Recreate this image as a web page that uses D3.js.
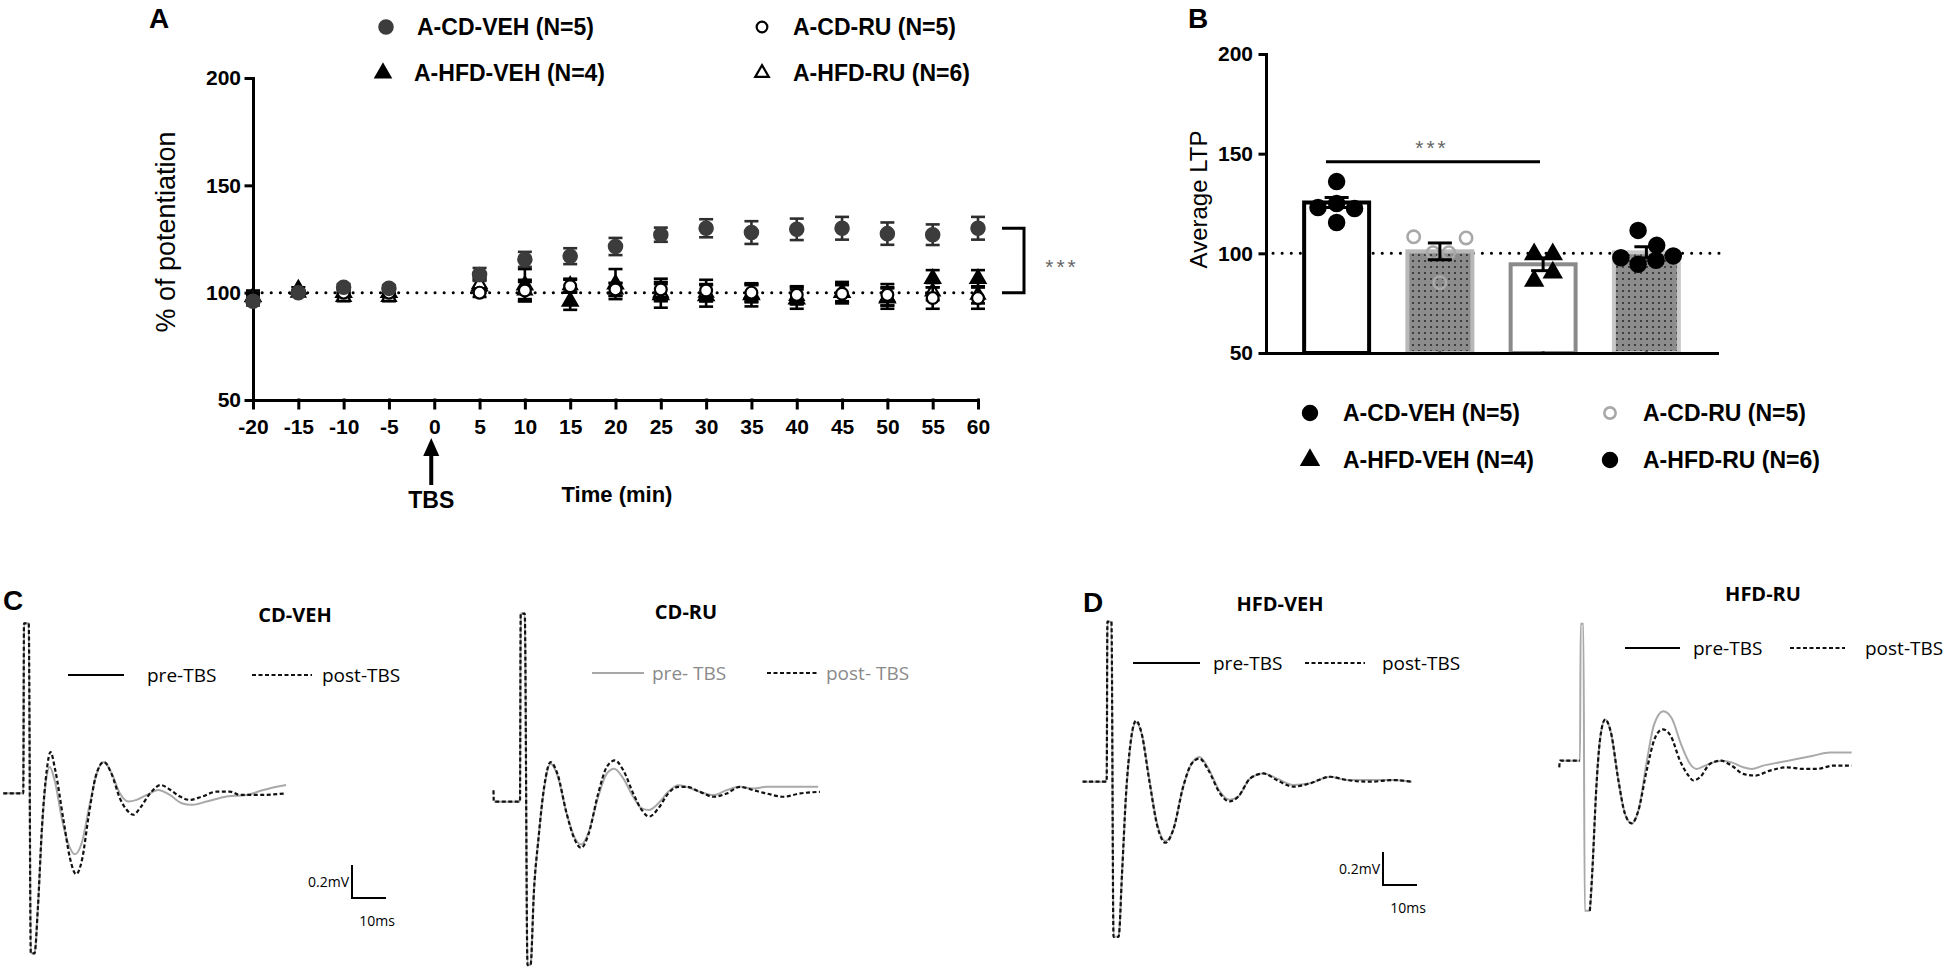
<!DOCTYPE html>
<html>
<head>
<meta charset="utf-8">
<script src="https://cdn.jsdelivr.net/npm/d3@7"></script>
<style>
  body { margin: 0; background: #fff; }
  svg { display: block; }
  .ax path, .ax line { stroke: #000; stroke-width: 3; stroke-linecap: square; }
  .ax text { font: bold 21px "Liberation Sans", Arial, sans-serif; fill: #000; }
  .sans { font-family: "Liberation Sans", Arial, sans-serif; }
  .cal { font-family: "Open Sans", "Noto Sans", sans-serif; }
</style>
</head>
<body>
<script>
// ---------- data: panel A (time course, % of potentiation) ----------
const timeMin = [-20, -15, -10, -5, 5, 10, 15, 20, 25, 30, 35, 40, 45, 50, 55, 60];
const timeTicks = [-20, -15, -10, -5, 0, 5, 10, 15, 20, 25, 30, 35, 40, 45, 50, 55, 60];
const potTicks = [50, 100, 150, 200];

const cdVeh = [96, 100, 102.5, 102, 108.5, 115.5, 117, 121.5, 127, 130, 128, 129.5, 130, 127.5, 127, 130];
const cdVehErr = [2, 1, 1.5, 1.5, 3, 3.5, 3.7, 4, 3.3, 4.2, 5.3, 5, 5.3, 5.2, 4.8, 5.3];
const cdRu = [97, 100, 100, 100, 100, 101, 103, 101.5, 101.5, 101, 100, 99, 99.5, 99, 97.5, 97.5];
const cdRuErr = [2, 1, 1.5, 1.5, 2, 4, 3, 3, 5, 5, 4, 4, 4, 5, 5, 5];
const hfdVeh = [98, 101.5, 100, 100, 103, 103.5, 96, 104, 99, 98.5, 99, 97, 100, 97.5, 106.5, 106.5];
const hfdVehErr = [3, 1, 2, 2, 3, 7.5, 4, 7, 6, 5, 5.4, 4.5, 5, 5, 4, 4];
const hfdRu = [98, 100, 98, 98, 104, 101, 103.5, 101.5, 100, 100, 99.5, 98.5, 100, 98, 100.5, 99];
const hfdRuErr = [2, 1, 2, 2, 3, 5, 3, 3, 4, 4, 4, 4, 4, 4, 4, 4];

const groupNames = ['A-CD-VEH (N=5)', 'A-CD-RU (N=5)', 'A-HFD-VEH (N=4)', 'A-HFD-RU (N=6)'];

// ---------- data: panel B (average LTP) ----------
const ltpMean = [125.5, 101, 94.5, 100.5];
const ltpSem = [2.5, 4.2, 3.2, 2.8];
const cdVehLtp = [136, 123, 125, 122.5, 115.5];
const cdRuLtp = [108.3, 107.7, 100.3, 100.3, 85.3];
const hfdVehLtp = [99.5, 99.5, 90.3, 86.2];
const hfdRuLtp = [111.5, 104, 97.8, 94.5, 96.5, 98.7];
const ltpSig = 146;

// ---------- data: panels C, D (fEPSP traces, [ms, mV]) ----------
const cdVehPre = [[-5.9,0],[0,0],[0.2,1.03],[1.6,1.03],[2.2,-0.97],[3.3,-0.97],[4.3,-0.69],[5.5,-0.22],[6.7,0.08],[7.8,0.16],[9.2,0.08],[11.6,-0.18],[13.5,-0.32],[15.2,-0.37],[17.2,-0.30],[19.4,-0.08],[21.6,0.12],[23.7,0.19],[26.0,0.12],[28.4,0],[30.9,-0.05],[33.3,-0.04],[36.3,-0.01],[39.7,0.02],[43.1,-0.01],[46.6,-0.06],[49.5,-0.07],[53.9,-0.05],[59.8,-0.02],[65.7,-0.01],[70.6,0.02],[74.5,0.04],[77.3,0.05]];
const cdVehPost = [[-5.9,0],[0,0],[0.2,1.03],[1.6,1.03],[2.2,-0.97],[3.3,-0.97],[4.3,-0.69],[5.5,-0.20],[6.9,0.14],[8.0,0.25],[9.4,0.14],[11.8,-0.16],[13.7,-0.39],[15.5,-0.49],[17.3,-0.40],[19.2,-0.14],[21.4,0.11],[23.7,0.19],[26.1,0.11],[28.4,-0.03],[30.4,-0.10],[32.4,-0.13],[34.3,-0.09],[37.3,0],[40.4,0.05],[43.3,0.02],[46.1,-0.02],[49.0,-0.04],[52.5,-0.02],[56.9,0.01],[60.8,0.01],[63.7,-0.01],[69.6,-0.01],[77.3,0]];
const cdRuPre = [[-7.6,0],[0,0],[0.2,1.14],[1.4,1.14],[2.2,-0.99],[3.1,-0.99],[4.1,-0.54],[5.4,-0.23],[7.1,0.08],[9.0,0.23],[11.0,0.16],[13.7,-0.07],[15.9,-0.21],[18.0,-0.26],[20.1,-0.19],[23.0,0.03],[25.5,0.17],[27.7,0.20],[30.4,0.14],[33.3,0.03],[35.8,-0.04],[38.0,-0.05],[40.7,-0.01],[43.6,0.06],[46.6,0.10],[49.0,0.09],[52.9,0.06],[56.9,0.04],[60.8,0.07],[64.7,0.09],[68.6,0.08],[72.5,0.09],[78.4,0.09],[84.3,0.09],[87.7,0.09]];
const cdRuPost = [[-7.8,0.07],[-7.7,0],[0,0],[0.2,1.14],[1.4,1.14],[2.2,-0.99],[3.1,-0.99],[4.1,-0.54],[5.4,-0.23],[7.1,0.09],[9.0,0.24],[11.0,0.17],[13.7,-0.07],[15.9,-0.22],[18.0,-0.28],[20.1,-0.20],[23.0,0.05],[25.5,0.21],[27.9,0.25],[30.4,0.19],[33.3,0.05],[35.8,-0.05],[38.0,-0.09],[40.7,-0.04],[43.6,0.05],[46.6,0.09],[49.0,0.09],[52.9,0.06],[56.9,0.03],[60.8,0.05],[64.7,0.09],[68.6,0.07],[72.5,0.05],[77.5,0.03],[82.4,0.05],[88.2,0.06]];
const hfdVehPre = [[-7.1,0],[0,0],[0.2,0.97],[1.4,0.97],[2.0,-0.94],[3.5,-0.94],[4.5,-0.56],[5.7,-0.08],[7.1,0.24],[8.6,0.36],[10.3,0.29],[12.5,0.02],[14.9,-0.26],[17.3,-0.36],[19.6,-0.29],[22.5,-0.03],[25.0,0.11],[27.3,0.15],[29.9,0.08],[33.3,-0.06],[36.1,-0.11],[38.7,-0.09],[42.2,0.02],[46.1,0.05],[50.0,0.02],[54.9,-0.02],[59.8,-0.01],[65.7,0.03],[70.6,0.01],[77.5,0.01],[84.3,0.01],[89.7,0]];
const hfdVehPost = [[-7.1,0],[0,0],[0.2,0.97],[1.4,0.97],[2.0,-0.94],[3.5,-0.94],[4.5,-0.56],[5.7,-0.07],[7.1,0.25],[8.6,0.37],[10.3,0.29],[12.5,0.01],[14.9,-0.27],[17.3,-0.37],[19.6,-0.29],[22.5,-0.03],[25.0,0.11],[27.3,0.14],[29.9,0.07],[33.3,-0.07],[36.1,-0.12],[38.7,-0.09],[42.2,0.02],[46.1,0.05],[50.0,0.01],[54.9,-0.03],[59.8,-0.01],[65.7,0.03],[70.6,0.01],[77.5,0],[84.3,0.01],[89.7,0]];
const hfdRuPre = [[-5.9,0],[0,0],[0.2,0.83],[1.0,0.83],[1.4,-0.91],[2.9,-0.91],[3.7,-0.64],[4.7,-0.20],[5.9,0.13],[7.4,0.25],[9.1,0.17],[11.3,-0.12],[13.2,-0.32],[15.2,-0.38],[17.2,-0.30],[19.6,-0.01],[21.8,0.22],[24.5,0.30],[26.9,0.26],[29.9,0.09],[32.4,-0.02],[34.3,-0.05],[36.8,-0.03],[39.2,-0.01],[41.7,0],[44.6,-0.01],[48.0,-0.04],[50.5,-0.05],[53.9,-0.03],[58.8,-0.01],[63.7,0.01],[68.6,0.03],[73.5,0.05],[79.9,0.05]];
const hfdRuPost = [[-6.1,-0.04],[-5.9,0],[0,0],[1.5,null],[2.9,-0.91],[3.7,-0.64],[4.7,-0.20],[5.9,0.13],[7.4,0.25],[9.1,0.17],[11.3,-0.12],[13.2,-0.32],[15.2,-0.38],[17.2,-0.30],[19.6,-0.06],[22.1,0.14],[24.3,0.19],[26.7,0.15],[29.4,0],[31.9,-0.09],[33.3,-0.12],[35.3,-0.10],[38.2,-0.02],[41.4,0],[44.6,-0.03],[48.0,-0.08],[51.5,-0.09],[55.9,-0.06],[60.8,-0.04],[65.7,-0.05],[69.6,-0.05],[74.5,-0.03],[79.9,-0.03]];

// ---------- setup ----------
const WIDTH = 1950;
const HEIGHT = 977;

const svg = d3.select('body')
  .append('svg')
    .attr('width', WIDTH)
    .attr('height', HEIGHT);

const defs = svg.append('defs');
const pat = defs.append('pattern')
  .attr('id', 'dots')
  .attr('width', 6).attr('height', 6)
  .attr('patternUnits', 'userSpaceOnUse');
pat.append('rect').attr('width', 6).attr('height', 6).attr('fill', '#8c8c8c');
pat.append('circle').attr('cx', 3).attr('cy', 3).attr('r', 1.1).attr('fill', '#2b2b2b');

function letter(txt, x, y) {
  svg.append('text').attr('class', 'sans')
    .attr('x', x).attr('y', y)
    .attr('font-size', 28).attr('font-weight', 'bold')
    .text(txt);
}

const sym = (type, size) => d3.symbol().type(type).size(size)();

// ---------- panel A ----------
const xA = d3.scaleLinear().domain([-20, 60]).range([253, 978]);
const yA = d3.scaleLinear().domain([50, 200]).range([400, 78]);

letter('A', 149, 28);

svg.append('g').attr('class', 'ax')
  .attr('transform', 'translate(0,400)')
  .call(d3.axisBottom(xA).tickValues(timeTicks).tickFormat(d => String(d))
    .tickSize(8).tickSizeOuter(0).tickPadding(11));
svg.append('g').attr('class', 'ax')
  .attr('transform', 'translate(253,0)')
  .call(d3.axisLeft(yA).tickValues(potTicks).tickSize(7).tickSizeOuter(0).tickPadding(5));

svg.append('text').attr('class', 'sans')
  .attr('transform', `translate(166,${yA(125) - 7}) rotate(-90)`)
  .attr('text-anchor', 'middle').attr('dominant-baseline', 'central')
  .attr('font-size', 27)
  .text('% of potentiation');

// baseline at 100 %
svg.append('line')
  .attr('x1', xA(-20)).attr('x2', xA(60) - 4)
  .attr('y1', yA(100)).attr('y2', yA(100))
  .attr('stroke', '#000').attr('stroke-width', 3)
  .attr('stroke-linecap', 'round').attr('stroke-dasharray', '0.1,9');

const seriesA = [
  { vals: hfdVeh, err: hfdVehErr, type: d3.symbolTriangle, size: 95, fill: '#000', stroke: '#000' },
  { vals: hfdRu, err: hfdRuErr, type: d3.symbolTriangle, size: 80, fill: '#fff', stroke: '#000' },
  { vals: cdRu, err: cdRuErr, type: d3.symbolCircle, size: 110, fill: '#fff', stroke: '#000' },
  { vals: cdVeh, err: cdVehErr, type: d3.symbolCircle, size: 140, fill: '#3c3c3c', stroke: '#3c3c3c' }
];

seriesA.forEach(s => {
  const g = svg.append('g');
  const pts = timeMin.map((t, i) => ({ t, v: s.vals[i], e: s.err[i] }));
  const eb = g.selectAll('g.eb').data(pts).enter().append('g')
    .attr('stroke', s.fill === '#3c3c3c' ? '#2e2e2e' : '#000').attr('stroke-width', 2.6);
  eb.append('line')
    .attr('x1', d => xA(d.t)).attr('x2', d => xA(d.t))
    .attr('y1', d => yA(d.v - d.e)).attr('y2', d => yA(d.v + d.e));
  eb.append('line')
    .attr('x1', d => xA(d.t) - 7).attr('x2', d => xA(d.t) + 7)
    .attr('y1', d => yA(d.v + d.e)).attr('y2', d => yA(d.v + d.e));
  eb.append('line')
    .attr('x1', d => xA(d.t) - 7).attr('x2', d => xA(d.t) + 7)
    .attr('y1', d => yA(d.v - d.e)).attr('y2', d => yA(d.v - d.e));
  g.selectAll('path.m').data(pts).enter().append('path')
    .attr('d', sym(s.type, s.size))
    .attr('transform', d => `translate(${xA(d.t)},${yA(d.v)})`)
    .attr('fill', s.fill).attr('stroke', s.stroke).attr('stroke-width', 2.2);
});

// legend A
const legA = [
  { x: 386, y: 27, type: d3.symbolCircle, size: 140, fill: '#3c3c3c', stroke: '#3c3c3c' },
  { x: 762, y: 27, type: d3.symbolCircle, size: 90, fill: '#fff', stroke: '#000' },
  { x: 383, y: 73, type: d3.symbolTriangle, size: 95, fill: '#000', stroke: '#000' },
  { x: 762, y: 73, type: d3.symbolTriangle, size: 80, fill: '#fff', stroke: '#000' }
];
legA.forEach((l, i) => {
  svg.append('path').attr('d', sym(l.type, l.size))
    .attr('transform', `translate(${l.x},${l.y})`)
    .attr('fill', l.fill).attr('stroke', l.stroke).attr('stroke-width', 2.2);
  svg.append('text').attr('class', 'sans')
    .attr('x', l.x + 31).attr('y', l.y)
    .attr('dominant-baseline', 'central')
    .attr('font-size', 23).attr('font-weight', 'bold')
    .text(groupNames[i]);
});

// TBS arrow
const xT = xA(0) - 3;
svg.append('line').attr('x1', xT).attr('x2', xT).attr('y1', 452).attr('y2', 485)
  .attr('stroke', '#000').attr('stroke-width', 4);
svg.append('path').attr('d', `M${xT},438 L${xT - 8},456 L${xT + 8},456 Z`).attr('fill', '#000');
svg.append('text').attr('class', 'sans')
  .attr('x', xT).attr('y', 500).attr('text-anchor', 'middle').attr('dominant-baseline', 'central')
  .attr('font-size', 23).attr('font-weight', 'bold').text('TBS');
svg.append('text').attr('class', 'sans')
  .attr('x', 617).attr('y', 494).attr('text-anchor', 'middle').attr('dominant-baseline', 'central')
  .attr('font-size', 22).attr('font-weight', 'bold').text('Time (min)');

// significance bracket
svg.append('path')
  .attr('d', `M1002,${yA(130)} H1024 V${yA(100)} H1002`)
  .attr('fill', 'none').attr('stroke', '#000').attr('stroke-width', 3);
svg.append('text').attr('class', 'sans')
  .attr('x', 1062).attr('y', yA(115) + 6).attr('text-anchor', 'middle')
  .attr('dominant-baseline', 'central').attr('font-size', 21).attr('fill', '#666')
  .attr('letter-spacing', 3).text('***');

// ---------- panel B ----------
const xB = d3.scaleBand().domain(groupNames).range([1266, 1717]).paddingInner(0.332).paddingOuter(0.35);
const yB = d3.scaleLinear().domain([50, 200]).range([353, 54]);

letter('B', 1188, 28);

svg.append('line')
  .attr('x1', 1273).attr('x2', 1724)
  .attr('y1', yB(100)).attr('y2', yB(100))
  .attr('stroke', '#000').attr('stroke-width', 3)
  .attr('stroke-linecap', 'round').attr('stroke-dasharray', '0.1,9');

const barFill = ['#fff', 'url(#dots)', '#fff', 'url(#dots)'];
const barStroke = ['#000', '#b8b8b8', '#8a8a8a', '#c8c8c8'];

svg.append('g').selectAll('rect')
  .data(groupNames)
  .enter().append('rect')
    .attr('x', d => xB(d) + 2)
    .attr('width', xB.bandwidth() - 4)
    .attr('y', (d, i) => yB(ltpMean[i]))
    .attr('height', (d, i) => yB(50) - yB(ltpMean[i]))
    .attr('fill', (d, i) => barFill[i])
    .attr('stroke', (d, i) => barStroke[i])
    .attr('stroke-width', 4);

svg.append('g').attr('class', 'ax')
  .attr('transform', 'translate(0,353)')
  .call(d3.axisBottom(xB).tickSize(0).tickSizeOuter(0).tickFormat(''));
svg.append('g').attr('class', 'ax')
  .attr('transform', 'translate(1266,0)')
  .call(d3.axisLeft(yB).tickValues(potTicks).tickSize(6).tickSizeOuter(0).tickPadding(7));

svg.append('text').attr('class', 'sans')
  .attr('transform', `translate(1198,${yB(127)}) rotate(-90)`)
  .attr('text-anchor', 'middle').attr('dominant-baseline', 'central')
  .attr('font-size', 24)
  .text('Average LTP');

// individual animals (horizontal spread as fraction of bar width)
const ltpPts = [cdVehLtp, cdRuLtp, hfdVehLtp, hfdRuLtp];
const spread = [[0, -0.27, 0, 0.26, 0], [-0.38, 0.38, -0.1, 0.13, 0], [-0.13, 0.14, 0.14, -0.13], [-0.12, 0.15, -0.37, -0.12, 0.14, 0.39]];
const ptStyle = [
  { type: d3.symbolCircle, size: 175, fill: '#000', stroke: '#000' },
  { type: d3.symbolCircle, size: 120, fill: 'none', stroke: '#a8a8a8' },
  { type: d3.symbolTriangle, size: 110, fill: '#000', stroke: '#000' },
  { type: d3.symbolCircle, size: 175, fill: '#000', stroke: '#000' }
];
ltpPts.forEach((vals, gi) => {
  const cx = xB(groupNames[gi]) + xB.bandwidth() / 2;
  const st = ptStyle[gi];
  svg.append('g').selectAll('path')
    .data(vals)
    .enter().append('path')
      .attr('d', sym(st.type, st.size))
      .attr('transform', (v, j) => `translate(${cx + spread[gi][j] * xB.bandwidth()},${yB(v)})`)
      .attr('fill', st.fill).attr('stroke', st.stroke).attr('stroke-width', 2.6);
});

// SEM bars
groupNames.forEach((g, i) => {
  const cx = xB(g) + xB.bandwidth() / 2;
  const gg = svg.append('g').attr('stroke', '#000').attr('stroke-width', 3);
  gg.append('line').attr('x1', cx).attr('x2', cx)
    .attr('y1', yB(ltpMean[i] - ltpSem[i])).attr('y2', yB(ltpMean[i] + ltpSem[i]));
  [1, -1].forEach(k => gg.append('line')
    .attr('x1', cx - 12).attr('x2', cx + 12)
    .attr('y1', yB(ltpMean[i] + k * ltpSem[i])).attr('y2', yB(ltpMean[i] + k * ltpSem[i])));
});

svg.append('line')
  .attr('x1', 1326).attr('x2', 1540)
  .attr('y1', yB(ltpSig)).attr('y2', yB(ltpSig))
  .attr('stroke', '#000').attr('stroke-width', 3);
svg.append('text').attr('class', 'sans')
  .attr('x', 1432).attr('y', yB(ltpSig) - 14).attr('text-anchor', 'middle')
  .attr('dominant-baseline', 'central').attr('font-size', 21).attr('fill', '#666')
  .attr('letter-spacing', 3).text('***');

// legend B
const legB = [
  { x: 1310, y: 413, type: d3.symbolCircle, size: 150, fill: '#000', stroke: '#000' },
  { x: 1610, y: 413, type: d3.symbolCircle, size: 100, fill: 'none', stroke: '#a8a8a8' },
  { x: 1310, y: 460, type: d3.symbolTriangle, size: 110, fill: '#000', stroke: '#000' },
  { x: 1610, y: 460, type: d3.symbolCircle, size: 150, fill: '#000', stroke: '#000' }
];
legB.forEach((l, i) => {
  svg.append('path').attr('d', sym(l.type, l.size))
    .attr('transform', `translate(${l.x},${l.y})`)
    .attr('fill', l.fill).attr('stroke', l.stroke).attr('stroke-width', 2.6);
  svg.append('text').attr('class', 'sans')
    .attr('x', l.x + 33).attr('y', l.y)
    .attr('dominant-baseline', 'central')
    .attr('font-size', 23).attr('font-weight', 'bold')
    .text(groupNames[i]);
});

// ---------- panels C, D: traces ----------
letter('C', 3, 610);
letter('D', 1083, 612);

const tracePanels = [
  { title: 'CD-VEH', tx: 295, ty: 614, ox: 23.3, oy: 793.3, pre: cdVehPre, post: cdVehPost,
    leg: { y: 675, l1: [68, 124], t1: 147, l2: [252, 312], t2: 322, c1: '#000', tc: '#000', pre: 'pre-TBS', post: 'post-TBS' },
    bar: { x: 352, y: 898 } },
  { title: 'CD-RU', tx: 686, ty: 611, ox: 520, oy: 801.7, pre: cdRuPre, post: cdRuPost,
    leg: { y: 673, l1: [592, 644], t1: 652, l2: [767, 818], t2: 826, c1: '#a8a8a8', tc: '#8a8a8a', pre: 'pre- TBS', post: 'post- TBS' } },
  { title: 'HFD-VEH', tx: 1280, ty: 603, ox: 1106.7, oy: 781.7, pre: hfdVehPre, post: hfdVehPost,
    leg: { y: 663, l1: [1133, 1200], t1: 1213, l2: [1305, 1365], t2: 1382, c1: '#000', tc: '#000', pre: 'pre-TBS', post: 'post-TBS' },
    bar: { x: 1383, y: 885 } },
  { title: 'HFD-RU', tx: 1763, ty: 593, ox: 1580, oy: 760.7, pre: hfdRuPre, post: hfdRuPost,
    leg: { y: 648, l1: [1625, 1680], t1: 1693, l2: [1790, 1845], t2: 1865, c1: '#000', tc: '#000', pre: 'pre-TBS', post: 'post-TBS' } }
];

tracePanels.forEach(p => {
  // 10 ms = 34 px, 0.2 mV = 33 px
  const x = d3.scaleLinear().domain([0, 10]).range([p.ox, p.ox + 34]);
  const y = d3.scaleLinear().domain([0, 0.2]).range([p.oy, p.oy - 33]);
  const line = d3.line()
    .defined(d => d[1] !== null)
    .x(d => x(d[0])).y(d => y(d[1]))
    .curve(d3.curveMonotoneX);

  svg.append('path').datum(p.pre).attr('d', line)
    .attr('fill', 'none').attr('stroke', '#a9a9a9').attr('stroke-width', 2);
  svg.append('path').datum(p.post).attr('d', line)
    .attr('fill', 'none').attr('stroke', '#111').attr('stroke-width', 2.2)
    .attr('stroke-dasharray', '4,2.5');

  svg.append('text').attr('class', 'cal')
    .attr('x', p.tx).attr('y', p.ty).attr('text-anchor', 'middle').attr('dominant-baseline', 'central')
    .attr('font-size', 20).attr('font-weight', 'bold').text(p.title);

  const L = p.leg;
  svg.append('line').attr('x1', L.l1[0]).attr('x2', L.l1[1]).attr('y1', L.y).attr('y2', L.y)
    .attr('stroke', L.c1).attr('stroke-width', 2);
  svg.append('line').attr('x1', L.l2[0]).attr('x2', L.l2[1]).attr('y1', L.y).attr('y2', L.y)
    .attr('stroke', '#111').attr('stroke-width', 2).attr('stroke-dasharray', '4,2.5');
  svg.append('text').attr('class', 'cal')
    .attr('x', L.t1).attr('y', L.y).attr('dominant-baseline', 'central')
    .attr('font-size', 19).attr('fill', L.tc).text(L.pre);
  svg.append('text').attr('class', 'cal')
    .attr('x', L.t2).attr('y', L.y).attr('dominant-baseline', 'central')
    .attr('font-size', 19).attr('fill', L.tc).text(L.post);

  if (p.bar) {
    const bw = x(10) - x(0);
    const bh = y(0) - y(0.2);
    svg.append('path')
      .attr('d', `M${p.bar.x},${p.bar.y - bh} V${p.bar.y} H${p.bar.x + bw}`)
      .attr('fill', 'none').attr('stroke', '#000').attr('stroke-width', 2);
    svg.append('text').attr('class', 'cal')
      .attr('x', p.bar.x - 3).attr('y', p.bar.y - bh / 2).attr('text-anchor', 'end')
      .attr('dominant-baseline', 'central').attr('font-size', 14).text('0.2mV');
    svg.append('text').attr('class', 'cal')
      .attr('x', p.bar.x + bw / 2 + 8).attr('y', p.bar.y + 22).attr('text-anchor', 'middle')
      .attr('dominant-baseline', 'central').attr('font-size', 14).text('10ms');
  }
});
</script>
</body>
</html>
